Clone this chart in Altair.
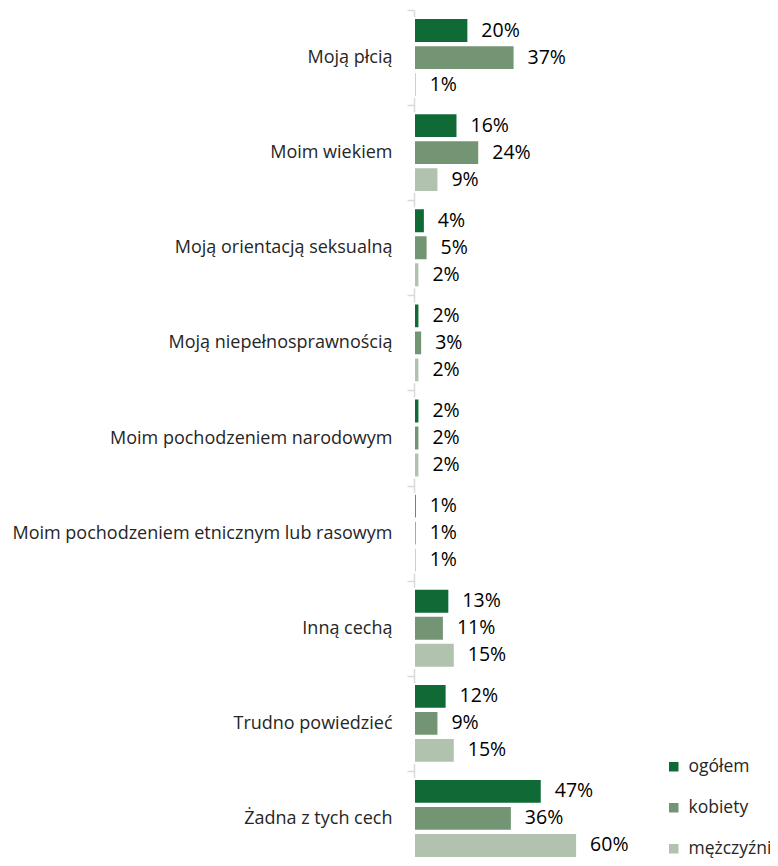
import altair as alt
import pandas as pd

categories = [
    "Moją płcią",
    "Moim wiekiem",
    "Moją orientacją seksualną",
    "Moją niepełnosprawnością",
    "Moim pochodzeniem narodowym",
    "Moim pochodzeniem etnicznym lub rasowym",
    "Inną cechą",
    "Trudno powiedzieć",
    "Żadna z tych cech",
]
series = ["ogółem", "kobiety", "mężczyźni"]
ogolem = [20, 16, 4, 2, 2, 1, 13, 12, 47]
kobiety = [37, 24, 5, 3, 2, 1, 11, 9, 36]
mezczyzni = [1, 9, 2, 2, 2, 1, 15, 15, 60]
colors = ["#0f6a36", "#739573", "#b1c3ae"]

rows = []
for s, vals in zip(series, [ogolem, kobiety, mezczyzni]):
    for c, v in zip(categories, vals):
        rows.append({"cat": c, "series": s, "value": v, "label": f"{v}%"})
df = pd.DataFrame(rows)

FONT = "Open Sans"

y_enc = alt.Y(
    "cat:N",
    sort=categories,
    scale=alt.Scale(paddingInner=0, paddingOuter=0, range=[0, 856]),
    axis=alt.Axis(
        title=None,
        labelFont=FONT,
        labelFontSize=18,
        labelColor="#262626",
        labelLimit=0,
        domainColor="#d9d9d9",
        domainWidth=1.5,
        tickColor="#d9d9d9",
        tickWidth=1.5,
        tickSize=7,
        tickBand="extent",
        labelPadding=15,
        grid=False,
    ),
)
yoff_enc = alt.YOffset(
    "series:N", sort=series, scale=alt.Scale(paddingInner=0.08, paddingOuter=0.3)
)
x_enc = alt.X("value:Q", scale=alt.Scale(domain=[0, 110]), axis=None)

base = alt.Chart(df).encode(y=y_enc, yOffset=yoff_enc, x=x_enc)

bars = base.mark_bar(stroke="white", strokeWidth=2).encode(
    color=alt.Color(
        "series:N",
        sort=series,
        scale=alt.Scale(domain=series, range=colors),
        legend=alt.Legend(
            title=None,
            orient="none",
            legendX=251,
            legendY=748,
            symbolType="square",
            symbolSize=90,
            symbolStrokeWidth=0,
            labelFont=FONT,
            labelFontSize=17.5,
            labelColor="#262626",
            labelOffset=6,
            rowPadding=22,
            padding=0,
        ),
    )
)

labels = base.mark_text(
    align="left", baseline="middle", dx=13, font=FONT, fontSize=19.5, color="#000000"
).encode(text="label:N")

chart = (
    alt.layer(bars, labels)
    .properties(
        width=299,
        height=848,
        padding={"top": 2, "left": 406, "right": 57, "bottom": 0},
        autosize=alt.AutoSizeParams(type="none"),
    )
    .configure_view(stroke=None)
)

chart.save("out.html", embed_options={"renderer": "svg", "actions": False})
